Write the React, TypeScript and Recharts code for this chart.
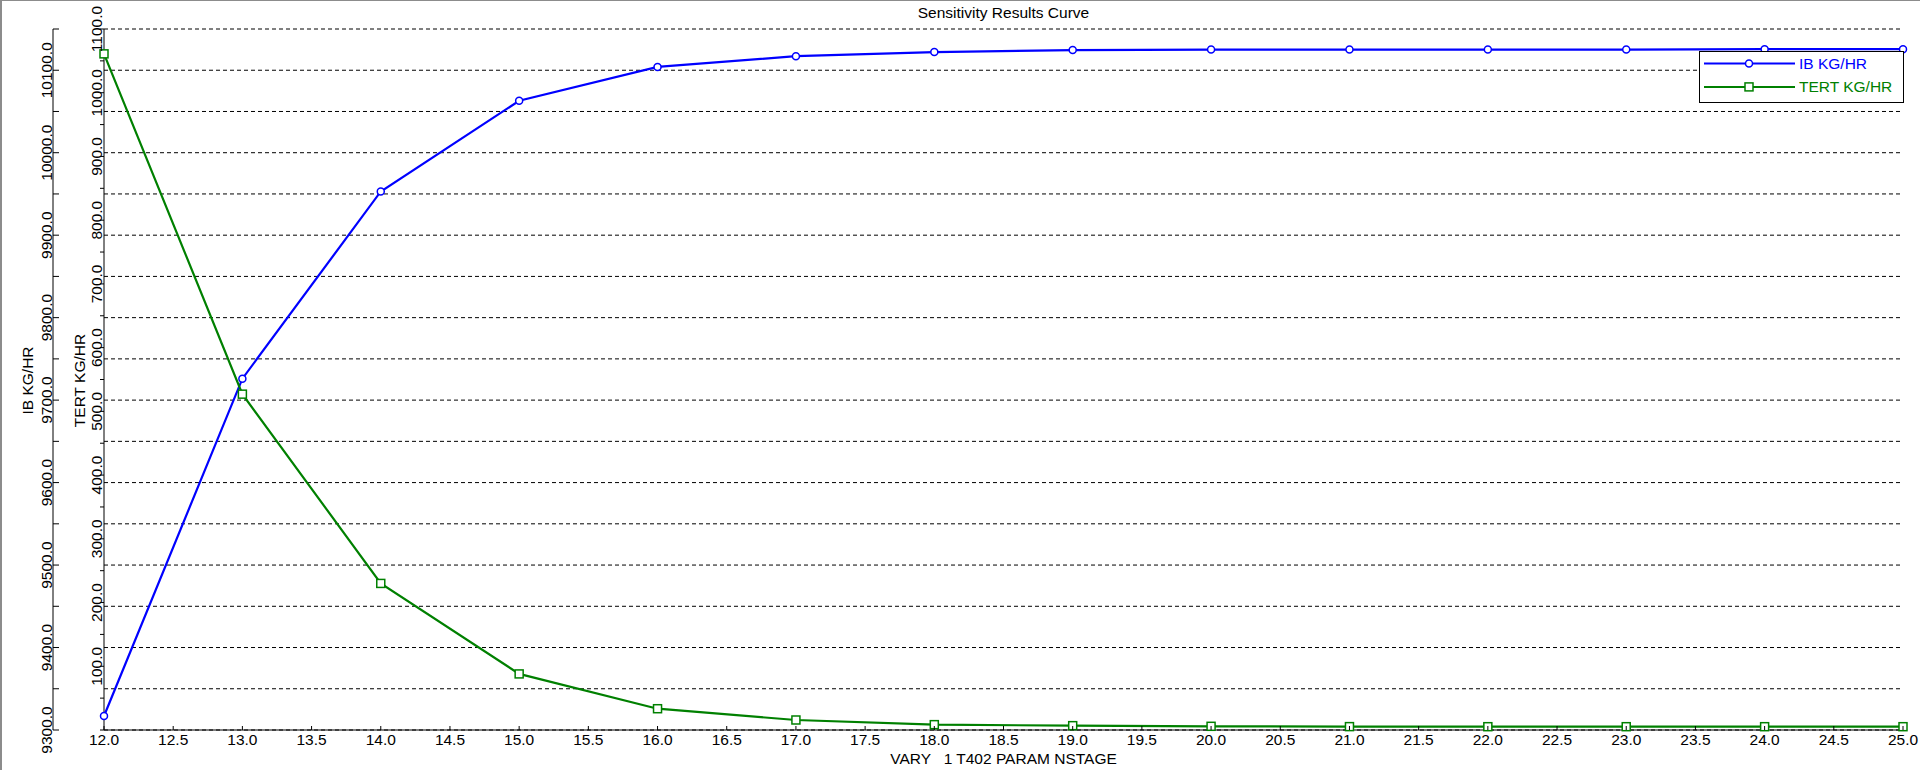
import React from "react";
import { LineChart, Line, XAxis, YAxis, CartesianGrid, Legend } from "recharts";

// NSTAGE sweep of T402
const nstage = [12, 13, 14, 15, 16, 17, 18, 19, 20, 21, 22, 23, 24, 25];
const ibKgHr = [9317, 9726, 9953, 10063, 10104, 10117, 10122, 10124.5, 10125, 10125, 10125, 10125, 10125.5, 10125.5];
const tertKgHr = [1061, 527, 230, 88, 33.4, 15.7, 8.4, 6.8, 5.8, 5.3, 5.2, 5.2, 5.2, 5.2];

const xTicks = [12, 12.5, 13, 13.5, 14, 14.5, 15, 15.5, 16, 16.5, 17, 17.5, 18, 18.5, 19, 19.5, 20, 20.5, 21, 21.5, 22, 22.5, 23, 23.5, 24, 24.5, 25];
const ibTicks = [9300, 9350, 9400, 9450, 9500, 9550, 9600, 9650, 9700, 9750, 9800, 9850, 9900, 9950, 10000, 10050, 10100, 10150];
const tertTicks = [0, 50, 100, 150, 200, 250, 300, 350, 400, 450, 500, 550, 600, 650, 700, 750, 800, 850, 900, 950, 1000, 1050, 1100];

const seriesNames = ["IB KG/HR", "TERT KG/HR"];
const chartTitle = "Sensitivity Results Curve";
const xTitle = "VARY   1 T402 PARAM NSTAGE";

const FONT = "Arial, 'Liberation Sans', sans-serif";
const FS = 15.5;
const BLUE = "#0000ff";
const GREEN = "#008000";

// axis ids: the inner (TERT) axis has to sort first so it sits next to the plot
const TERT_AXIS = "a_tert";
const IB_AXIS = "b_ib";

const data = nstage.map((x, i) => ({ x, ib: ibKgHr[i], tert: tertKgHr[i] }));

const XTick = (p: any) => {
  const { x, y, payload } = p;
  return (
    <g>
      <line x1={x} y1={y} x2={x} y2={y - 4} stroke="#000" />
      <text x={x} y={y + 15} textAnchor="middle" fontSize={FS} fontFamily={FONT} fill="#000">
        {Number(payload.value).toFixed(1)}
      </text>
    </g>
  );
};

const IbTick = (p: any) => {
  const { x, y, payload } = p;
  const v = Number(payload.value);
  return (
    <g>
      <line x1={x} y1={y} x2={x + 6} y2={y} stroke="#000" />
      {v % 100 === 0 ? (
        <text transform={`translate(${x - 1},${y}) rotate(-90)`} textAnchor="middle" fontSize={FS} fontFamily={FONT} fill="#000">
          {v.toFixed(1)}
        </text>
      ) : null}
    </g>
  );
};

const TertTick = (p: any) => {
  const { x, y, payload } = p;
  const v = Number(payload.value);
  return (
    <g>
      <line x1={x} y1={y} x2={x - 4} y2={y} stroke="#000" />
      {v % 100 === 0 && v > 0 ? (
        <text transform={`translate(${x - 2},${y}) rotate(-90)`} textAnchor="middle" fontSize={FS} fontFamily={FONT} fill="#000">
          {v.toFixed(1)}
        </text>
      ) : null}
    </g>
  );
};

const yTitle = (text: string, dx: number) => (props: any) => {
  const vb = props.viewBox || {};
  return (
    <text
      transform={`translate(${vb.x + dx},${vb.y + vb.height / 2 + 1}) rotate(-90)`}
      textAnchor="middle"
      fontSize={FS}
      fontFamily={FONT}
      fill="#000"
    >
      {text}
    </text>
  );
};

const XTitle = (props: any) => {
  const vb = props.viewBox || {};
  return (
    <text x={vb.x + vb.width / 2} y={vb.y + 34} textAnchor="middle" fontSize={FS} fontFamily={FONT} fill="#000" style={{ whiteSpace: "pre" }}>
      {xTitle}
    </text>
  );
};

const SquareDot = (p: any) => {
  const { cx, cy, index } = p;
  if (cx == null || cy == null) return <g key={`sq-${index}`} />;
  return <rect key={`sq-${index}`} x={cx - 4} y={cy - 4} width={8} height={8} fill="#fff" stroke={GREEN} strokeWidth={1.5} />;
};

const LegendBox = () => {
  const colors = [BLUE, GREEN];
  return (
    <svg width={205} height={52} style={{ display: "block" }}>
      <rect x={0.5} y={0.5} width={204} height={51} fill="#fff" stroke="#000" />
      {seriesNames.map((name, i) => {
        const cy = 12.5 + i * 23.4;
        return (
          <g key={name}>
            <line x1={5} y1={cy} x2={96} y2={cy} stroke={colors[i]} strokeWidth={2} />
            {i === 0 ? (
              <circle cx={50} cy={cy} r={3.5} fill="#fff" stroke={colors[i]} strokeWidth={1.5} />
            ) : (
              <rect x={46} y={cy - 4} width={8} height={8} fill="#fff" stroke={colors[i]} strokeWidth={1.5} />
            )}
            <text x={100} y={cy + 5.5} fontSize={FS} fontFamily={FONT} fill={colors[i]}>
              {name}
            </text>
          </g>
        );
      })}
    </svg>
  );
};

export default function App() {
  return (
    <div style={{ position: "absolute", left: 0, top: 0, width: 1920, height: 770, background: "#fff", fontFamily: FONT }}>
      <div
        style={{
          position: "absolute",
          left: 104,
          width: 1799,
          top: 5,
          textAlign: "center",
          fontSize: FS,
          lineHeight: "16px",
          color: "#000",
        }}
      >
        {chartTitle}
      </div>
      <LineChart width={1920} height={770} data={data} margin={{ top: 29, right: 17, bottom: 0, left: 2 }}>
        <CartesianGrid yAxisId={IB_AXIS} vertical={false} stroke="#000" strokeDasharray="4 3" />
        <XAxis
          dataKey="x"
          type="number"
          domain={[12, 25]}
          ticks={xTicks}
          interval={0}
          tickSize={0}
          tickMargin={0}
          tickLine={false}
          tick={XTick}
          axisLine={{ stroke: "#000" }}
          height={40}
          label={{ content: XTitle }}
        />
        <YAxis
          yAxisId={TERT_AXIS}
          orientation="left"
          width={51}
          domain={[0, 1100]}
          ticks={tertTicks}
          interval={0}
          tickSize={0}
          tickMargin={0}
          tickLine={false}
          tick={TertTick}
          axisLine={{ stroke: "#000" }}
          label={{ content: yTitle(seriesNames[1], 32) }}
        />
        <YAxis
          yAxisId={IB_AXIS}
          orientation="left"
          width={51}
          domain={[9300, 10150]}
          ticks={ibTicks}
          interval={0}
          tickSize={0}
          tickMargin={0}
          tickLine={false}
          tick={IbTick}
          axisLine={{ stroke: "#000" }}
          label={{ content: yTitle(seriesNames[0], 31) }}
        />
        <Line
          yAxisId={IB_AXIS}
          dataKey="ib"
          type="linear"
          stroke={BLUE}
          strokeWidth={2.2}
          dot={{ r: 3.5, fill: "#fff", stroke: BLUE, strokeWidth: 1.5 }}
          isAnimationActive={false}
        />
        <Line yAxisId={TERT_AXIS} dataKey="tert" type="linear" stroke={GREEN} strokeWidth={2.2} dot={SquareDot} isAnimationActive={false} />
        <Legend
          layout="vertical"
          align="center"
          verticalAlign="middle"
          content={LegendBox}
          wrapperStyle={{ top: 51, left: 1699, width: 205, height: 52 }}
        />
      </LineChart>
      <div
        style={{
          position: "absolute",
          left: 0,
          top: 0,
          width: 1920,
          height: 770,
          boxSizing: "border-box",
          borderTop: "1px solid #8c8c8c",
          borderLeft: "2px solid #8c8c8c",
          pointerEvents: "none",
        }}
      />
    </div>
  );
}
